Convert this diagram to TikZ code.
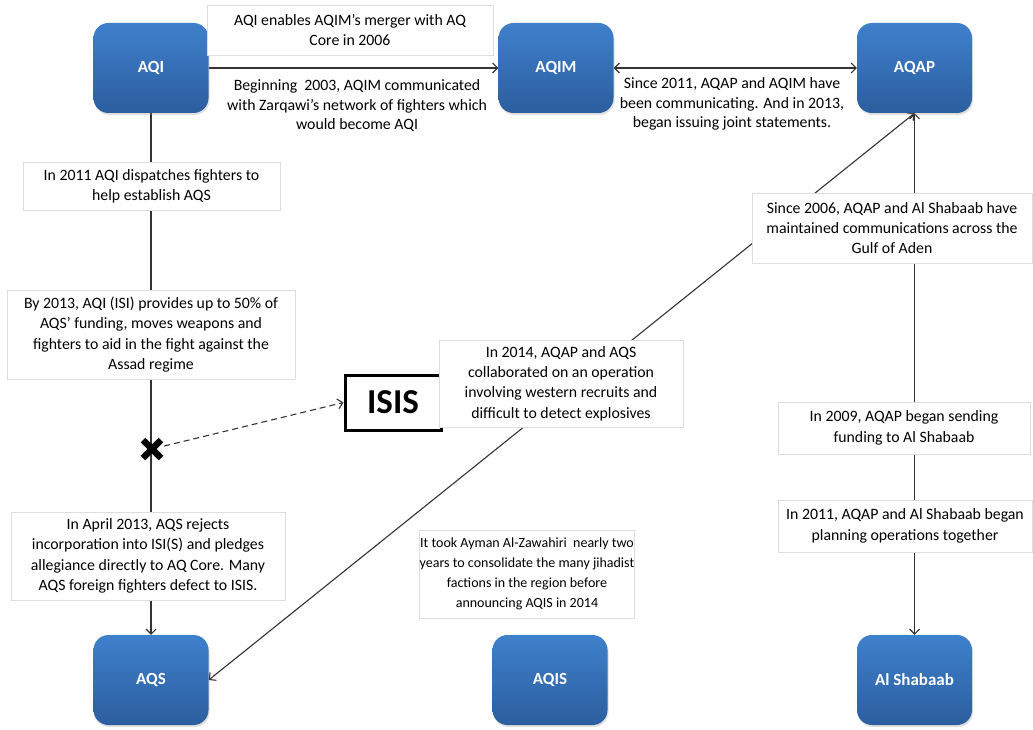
\documentclass[tikz,border=0pt]{standalone}
\usepackage{fontspec}
\setmainfont{Carlito}
\usetikzlibrary{arrows.meta,shadows}
\definecolor{bTop}{HTML}{3F80CC}
\definecolor{bBot}{HTML}{2B5E9E}
\definecolor{noteLine}{HTML}{DDDDDD}
\pgfdeclarelayer{bg}
\pgfsetlayers{bg,main}
\begin{document}
\begin{tikzpicture}[x=1pt,y=-1pt,
  org/.style={rounded corners=15pt, minimum width=115pt, minimum height=90pt, top color=bTop, bottom color=bBot, text=white, font=\fontsize{17}{20}\selectfont\bfseries, drop shadow={shadow xshift=1pt, shadow yshift=-2pt, opacity=0.25}},
  note/.style={draw=noteLine, fill=white, line width=0.6pt, align=center, inner sep=0pt, font=\fontsize{15.8}{20.3}\selectfont},
  plain/.style={align=center, inner sep=0pt, font=\fontsize{15.8}{19.5}\selectfont},
  isisbox/.style={draw=black, fill=white, line width=3pt, minimum width=96pt, minimum height=55pt, inner sep=0pt, font=\bfseries\fontsize{35}{40}\selectfont},
  xmark/.style={minimum size=24pt, inner sep=0pt, path picture={\draw[line width=6.5pt] ([shift={(3pt,-3pt)}]path picture bounding box.north west) -- ([shift={(-3pt,3pt)}]path picture bounding box.south east) ([shift={(-3pt,-3pt)}]path picture bounding box.north east) -- ([shift={(3pt,3pt)}]path picture bounding box.south west);}},
  conn/.style={line width=1.1pt, draw=black!80},
  >={Straight Barb[length=5pt,width=10pt]}
]
\useasboundingbox (0,0) rectangle (1033,730);
\node[org] (aqi) at (151,68) {AQI};
\node[org] (aqim) at (556,68) {AQIM};
\node[org] (aqap) at (914.5,68) {AQAP};
\node[org] (aqs) at (151,680) {AQS};
\node[org] (aqis) at (550,680) {AQIS};
\node[org] (alsh) at (914.5,680) {Al Shabaab};

\node[note, minimum width=286pt, minimum height=50pt] (n1) at (350,30) {AQI enables AQIM’s merger with AQ\\Core in 2006};
\node[plain] (n2) at (357,106) {Beginning\ \ 2003, AQIM communicated\\with Zarqawi’s network of fighters which\\would become AQI};
\node[plain] (n3) at (732,104) {Since 2011, AQAP and AQIM have\\been communicating. And in 2013,\\began issuing joint statements.};
\node[note, minimum width=257pt, minimum height=48pt] (n4) at (151.5,186) {In 2011 AQI dispatches fighters to\\help establish AQS};
\node[note, minimum width=288pt, minimum height=89pt] (n5) at (151,334.5) {By 2013, AQI (ISI) provides up to 50\% of\\AQS’ funding, moves weapons and\\fighters to aid in the fight against the\\Assad regime};
\node[note, minimum width=274pt, minimum height=88pt] (n6) at (148,556) {In April 2013, AQS rejects\\incorporation into ISI(S) and pledges\\allegiance directly to AQ Core. Many\\AQS foreign fighters defect to ISIS.};
\node[isisbox] (isis) at (393,402.5) {ISIS};
\node[note, minimum width=244pt, minimum height=87pt] (n7) at (561,383.5) {In 2014, AQAP and AQS\\collaborated on an operation\\involving western recruits and\\difficult to detect explosives};
\node[note, minimum width=280pt, minimum height=70pt] (n8) at (892,228) {Since 2006, AQAP and Al Shabaab have\\maintained communications across the\\Gulf of Aden};
\node[note, minimum width=252pt, minimum height=52pt] (n9) at (904,428) {In 2009, AQAP began sending\\funding to Al Shabaab};
\node[note, minimum width=254pt, minimum height=52pt] (n10) at (905,526) {In 2011, AQAP and Al Shabaab began\\planning operations together};
\node[note, minimum width=214pt, minimum height=88pt, font=\fontsize{14}{19.8}\selectfont] (n11) at (527,574) {It took Ayman Al-Zawahiri\ \ nearly two\\years to consolidate the many jihadist\\factions in the region before\\announcing AQIS in 2014};
\node[xmark] (xm) at (152,449) {};

\begin{pgfonlayer}{bg}
\draw[conn,->] (aqi) -- (aqim);
\draw[conn,<->] (aqim) -- (aqap);
\draw[conn,->] (aqi) -- (aqs);
\draw[conn,<->] (aqs.east) -- (aqap.south);
\draw[conn,<->] (aqap) -- (alsh);
\draw[conn,dash pattern=on 6pt off 4pt,->] (xm) -- (isis.west);
\end{pgfonlayer}
\end{tikzpicture}
\end{document}
